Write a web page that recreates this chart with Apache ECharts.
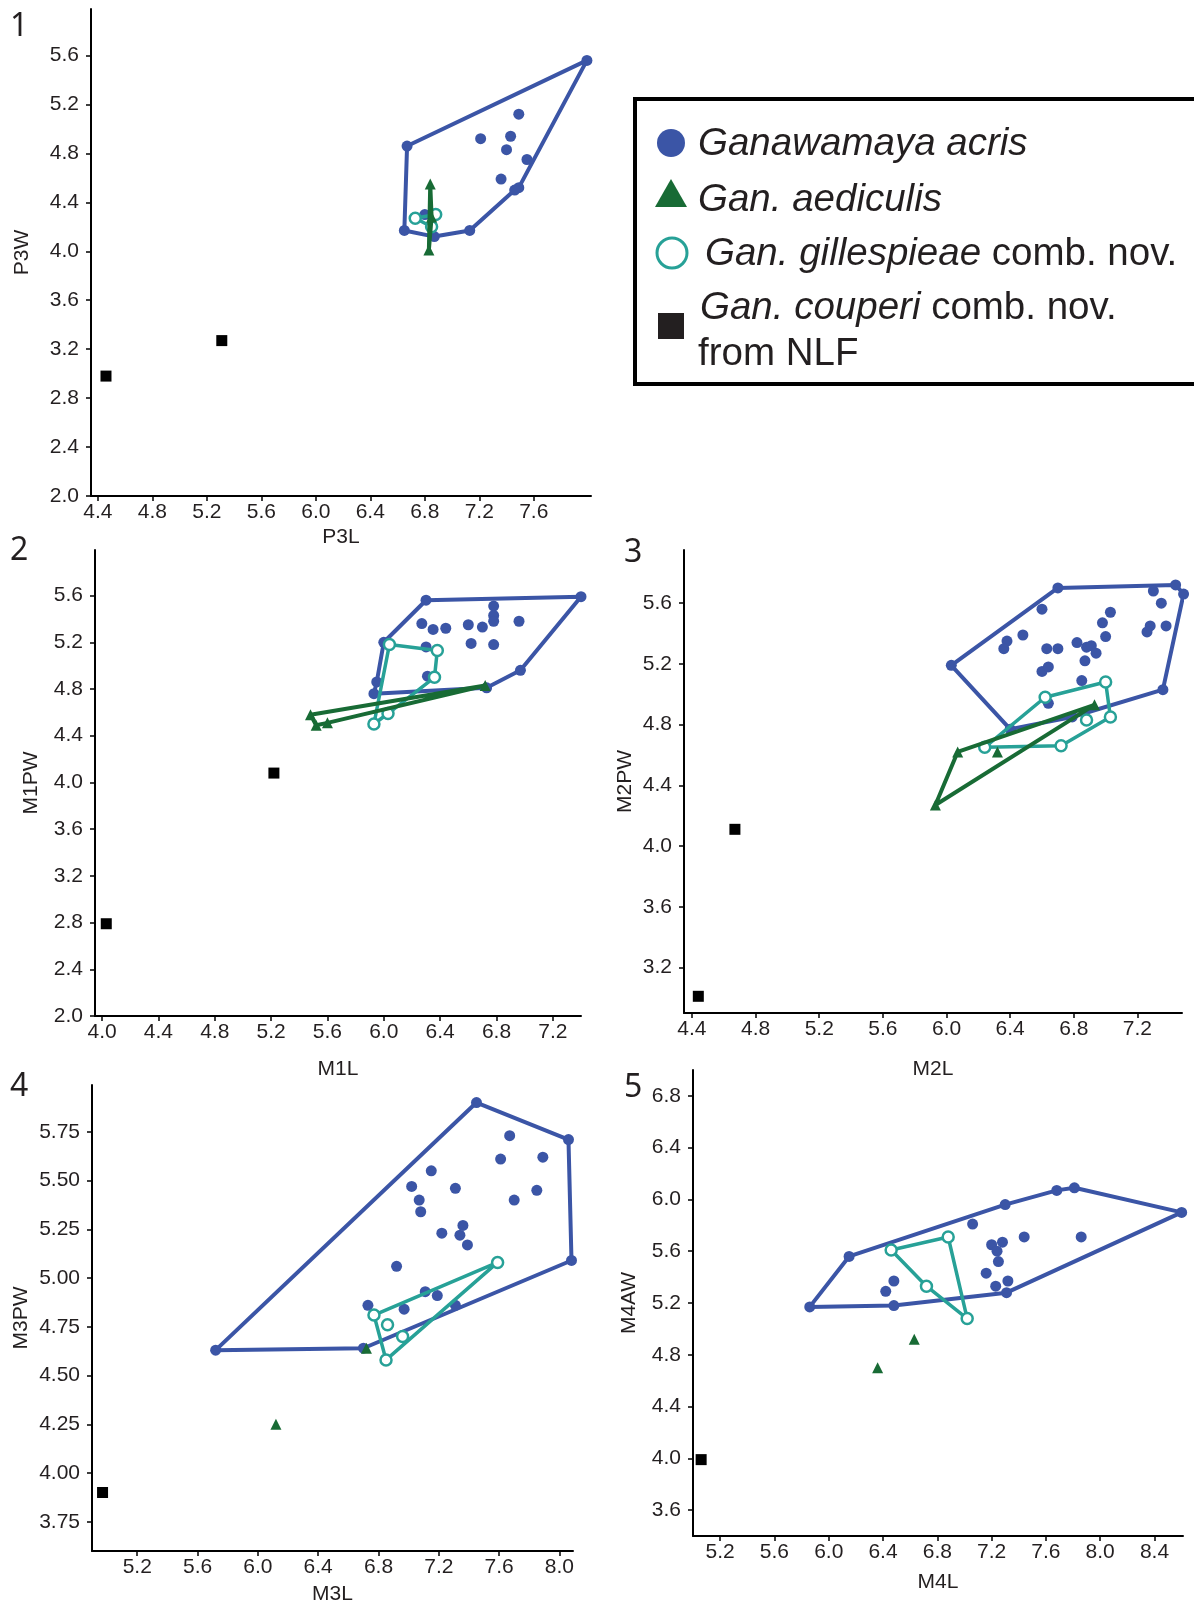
<!DOCTYPE html>
<html><head><meta charset="utf-8">
<script src="https://cdn.jsdelivr.net/npm/echarts@6/dist/echarts.min.js"></script>
<style>html,body{margin:0;padding:0;background:#fff}#c{width:1194px;height:1606px}</style>
</head><body><div id="c"></div>
<script>
// ---------- Panel 1: P3L vs P3W ----------
const acrisHull1 = [[6.67,4.86],[7.99,5.56],[7.49,4.52],[7.46,4.50],[7.13,4.17],[6.87,4.12],[6.65,4.17]];
const acrisIn1 = [[7.21,4.92],[7.49,5.12],[7.43,4.94],[7.40,4.83],[7.55,4.75],[7.36,4.59],[6.80,4.30]];
const gillHull1 = [[6.73,4.27],[6.88,4.30],[6.85,4.20]];
const gillIn1 = [];
const aedHull1 = [[6.83,4.01],[6.84,4.55],[6.85,4.28]];
const aedIn1 = [];
const coup1 = [[4.46,2.98],[5.31,3.27]];
const xTicks1 = [4.4,4.8,5.2,5.6,6.0,6.4,6.8,7.2,7.6];
const yTicks1 = [2.0,2.4,2.8,3.2,3.6,4.0,4.4,4.8,5.2,5.6];

// ---------- Panel 2: M1L vs M1PW ----------
const acrisHull2 = [[6.30,5.56],[7.40,5.59],[6.97,4.96],[6.73,4.81],[5.93,4.76],[5.95,4.86],[6.00,5.20]];
const acrisIn2 = [[6.27,5.36],[6.35,5.31],[6.44,5.32],[6.60,5.35],[6.70,5.33],[6.78,5.51],[6.78,5.43],[6.78,5.38],[6.96,5.38],[6.30,5.16],[6.62,5.19],[6.78,5.18],[6.31,4.91]];
const gillHull2 = [[6.04,5.18],[6.38,5.13],[6.36,4.90],[6.03,4.59],[5.93,4.50]];
const gillIn2 = [];
const aedHull2 = [[5.48,4.58],[6.72,4.83],[5.60,4.51],[5.52,4.49]];
const aedIn2 = [];
const coup2 = [[5.22,4.08],[4.03,2.79]];
const xTicks2 = [4.0,4.4,4.8,5.2,5.6,6.0,6.4,6.8,7.2];
const yTicks2 = [2.0,2.4,2.8,3.2,3.6,4.0,4.4,4.8,5.2,5.6];

// ---------- Panel 3: M2L vs M2PW ----------
const acrisHull3 = [[6.03,5.19],[6.70,5.70],[7.44,5.72],[7.49,5.66],[7.36,5.03],[6.79,4.85],[6.40,4.77]];
const acrisIn3 = [[6.60,5.56],[6.48,5.39],[6.38,5.35],[6.36,5.30],[6.63,5.30],[6.70,5.30],[6.82,5.34],[6.88,5.31],[6.91,5.32],[6.94,5.27],[6.87,5.22],[6.98,5.47],[7.03,5.54],[7.00,5.38],[7.30,5.68],[7.35,5.60],[7.28,5.45],[7.26,5.41],[7.38,5.45],[6.60,5.15],[6.64,5.18],[6.85,5.09],[6.64,4.94]];
const gillHull3 = [[6.62,4.98],[7.00,5.08],[7.03,4.85],[6.72,4.66],[6.24,4.65]];
const gillIn3 = [[6.88,4.83]];
const aedHull3 = [[6.07,4.62],[6.93,4.93],[5.93,4.27]];
const aedIn3 = [[6.32,4.62]];
const coup3 = [[4.67,4.11],[4.44,3.01]];
const xTicks3 = [4.4,4.8,5.2,5.6,6.0,6.4,6.8,7.2];
const yTicks3 = [3.2,3.6,4.0,4.4,4.8,5.2,5.6];

// ---------- Panel 4: M3L vs M3PW ----------
const acrisHull4 = [[5.72,4.63],[7.45,5.90],[8.06,5.71],[8.08,5.09],[6.70,4.64]];
const acrisIn4 = [[7.67,5.73],[7.61,5.61],[7.89,5.62],[7.15,5.55],[7.02,5.47],[7.31,5.46],[7.07,5.40],[7.08,5.34],[7.70,5.40],[7.85,5.45],[7.22,5.23],[7.36,5.27],[7.34,5.22],[7.39,5.17],[6.92,5.06],[7.11,4.93],[7.19,4.91],[6.73,4.86],[6.97,4.84],[7.31,4.86]];
const gillHull4 = [[6.77,4.81],[7.59,5.08],[6.85,4.58]];
const gillIn4 = [[6.86,4.76],[6.96,4.70]];
const aedHull4 = [];
const aedIn4 = [[6.72,4.64],[6.12,4.25]];
const coup4 = [[4.97,3.90]];
const xTicks4 = [5.2,5.6,6.0,6.4,6.8,7.2,7.6,8.0];
const yTicks4 = [3.75,4.00,4.25,4.50,4.75,5.00,5.25,5.50,5.75];

// ---------- Panel 5: M4L vs M4AW ----------
const acrisHull5 = [[5.86,5.17],[6.15,5.56],[7.30,5.96],[7.68,6.07],[7.81,6.09],[8.60,5.90],[7.31,5.28],[6.48,5.18]];
const acrisIn5 = [[7.06,5.81],[7.44,5.71],[7.86,5.71],[7.20,5.65],[7.28,5.67],[7.24,5.60],[7.25,5.52],[7.16,5.43],[7.23,5.33],[7.32,5.37],[6.48,5.37],[6.42,5.29]];
const gillHull5 = [[6.46,5.61],[6.88,5.71],[7.02,5.08],[6.72,5.33]];
const gillIn5 = [];
const aedHull5 = [];
const aedIn5 = [[6.63,4.92],[6.36,4.70]];
const coup5 = [[5.06,3.99]];
const xTicks5 = [5.2,5.6,6.0,6.4,6.8,7.2,7.6,8.0,8.4];
const yTicks5 = [3.6,4.0,4.4,4.8,5.2,5.6,6.0,6.4,6.8];

const BLUE = '#3b55a6', TEAL = '#27a197', GREEN = '#186b35', BLACK = '#000';
const FONT = 'Liberation Sans, Arial, sans-serif';

const panels = [
  {num:'1', xName:'P3L', yName:'P3W', grid:{left:91,top:9,width:500,height:487}, xr:[4.35,8.02], yr:[2.0,5.98], xt:xTicks1, yt:yTicks1, dec:1, xGap:31, yGap:58,
   ah:acrisHull1, ai:acrisIn1, gh:gillHull1, gi:gillIn1, eh:aedHull1, ei:aedIn1, c:coup1},
  {num:'2', xName:'M1L', yName:'M1PW', grid:{left:95,top:550,width:486,height:466}, xr:[3.95,7.40], yr:[2.0,5.99], xt:xTicks2, yt:yTicks2, dec:1, xGap:43, yGap:53,
   ah:acrisHull2, ai:acrisIn2, gh:gillHull2, gi:gillIn2, eh:aedHull2, ei:aedIn2, c:coup2},
  {num:'3', xName:'M2L', yName:'M2PW', grid:{left:684,top:550,width:498,height:463}, xr:[4.35,7.48], yr:[2.90,5.95], xt:xTicks3, yt:yTicks3, dec:1, xGap:46, yGap:48,
   ah:acrisHull3, ai:acrisIn3, gh:gillHull3, gi:gillIn3, eh:aedHull3, ei:aedIn3, c:coup3},
  {num:'4', xName:'M3L', yName:'M3PW', grid:{left:92,top:1085,width:481,height:466}, xr:[4.9,8.09], yr:[3.6,5.99], xt:xTicks4, yt:yTicks4, dec:2, xGap:33, yGap:60,
   ah:acrisHull4, ai:acrisIn4, gh:gillHull4, gi:gillIn4, eh:aedHull4, ei:aedIn4, c:coup4},
  {num:'5', xName:'M4L', yName:'M4AW', grid:{left:693,top:1070,width:490,height:466}, xr:[5.0,8.61], yr:[3.4,7.0], xt:xTicks5, yt:yTicks5, dec:1, xGap:36, yGap:53,
   ah:acrisHull5, ai:acrisIn5, gh:gillHull5, gi:gillIn5, eh:aedHull5, ei:aedIn5, c:coup5}
];

function closed(a){ return a.length ? a.concat([a[0]]) : []; }

const grids = [], xAxes = [], yAxes = [], series = [];
panels.forEach((p, i) => {
  grids.push(Object.assign({containLabel:false}, p.grid));
  const axisCommon = {
    type:'value', gridIndex:i,
    axisLine:{show:true, onZero:false, lineStyle:{color:'#000', width:2}},
    splitLine:{show:false},
    nameLocation:'middle',
    nameTextStyle:{fontFamily:FONT, fontSize:21, color:'#231f20'}
  };
  xAxes.push(Object.assign({}, axisCommon, {
    min:p.xr[0], max:p.xr[1], name:p.xName, nameGap:p.xGap,
    axisTick:{show:true, length:5, lineStyle:{color:'#000', width:1.5}, customValues:p.xt},
    axisLabel:{customValues:p.xt, formatter:v=>v.toFixed(1), fontFamily:FONT, fontSize:21, color:'#231f20', margin:6}
  }));
  yAxes.push(Object.assign({}, axisCommon, {
    min:p.yr[0], max:p.yr[1], name:p.yName, nameGap:p.yGap,
    axisTick:{show:true, length:5, lineStyle:{color:'#000', width:1.5}, customValues:p.yt},
    axisLabel:{customValues:p.yt, formatter:v=>v.toFixed(p.dec), fontFamily:FONT, fontSize:21, color:'#231f20', margin:12}
  }));
  const base = {xAxisIndex:i, yAxisIndex:i, clip:false, silent:true};
  if (p.ah.length) series.push(Object.assign({}, base, {type:'line', data:closed(p.ah), showSymbol:false, lineStyle:{color:BLUE, width:4}, z:2}));
  series.push(Object.assign({}, base, {type:'scatter', data:p.ah.concat(p.ai), symbol:'circle', symbolSize:11, itemStyle:{color:BLUE, opacity:1}, z:3}));
  if (p.gh.length) series.push(Object.assign({}, base, {type:'line', data:closed(p.gh), showSymbol:false, lineStyle:{color:TEAL, width:3.5}, z:4}));
  series.push(Object.assign({}, base, {type:'scatter', data:p.gh.concat(p.gi), symbol:'circle', symbolSize:11, itemStyle:{color:'#fff', borderColor:TEAL, borderWidth:2.5, opacity:1}, z:5}));
  if (p.eh.length) series.push(Object.assign({}, base, {type:'line', data:closed(p.eh), showSymbol:false, lineStyle:{color:GREEN, width:4}, z:6}));
  series.push(Object.assign({}, base, {type:'scatter', data:p.eh.concat(p.ei), symbol:'triangle', symbolSize:11, itemStyle:{color:GREEN, opacity:1}, z:7}));
  series.push(Object.assign({}, base, {type:'scatter', data:p.c, symbol:'rect', symbolSize:11, itemStyle:{color:BLACK, opacity:1}, z:8}));
});

const numPos = [[10,11],[10,535],[624,537],[10,1071],[624,1072]];
const graphic = panels.map((p,i)=>({type:'text', left:numPos[i][0], top:numPos[i][1], style:{text:p.num, fontFamily:'Noto Sans, sans-serif', fontSize:32, fill:'#231f20'}}));

// legend box
const LX = 635, LY = 99;
graphic.push({type:'rect', shape:{x:LX, y:LY, width:600, height:285}, style:{fill:'#fff', stroke:'#000', lineWidth:4}, z:10});
const LF = 38.5;
const rich = {i:{fontStyle:'italic', fontFamily:FONT, fontSize:LF, fill:'#231f20'}, n:{fontFamily:FONT, fontSize:LF, fill:'#231f20'}};
graphic.push({type:'circle', shape:{cx:671, cy:143, r:14}, style:{fill:BLUE}, z:11});
graphic.push({type:'polygon', shape:{points:[[671,179],[655,207],[687,207]]}, style:{fill:GREEN}, z:11});
graphic.push({type:'circle', shape:{cx:672, cy:253, r:15}, style:{fill:'#fff', stroke:TEAL, lineWidth:3}, z:11});
graphic.push({type:'rect', shape:{x:658, y:313, width:26, height:26}, style:{fill:'#231f20'}, z:11});
const legTexts = [
  [698,144,'{i|Ganawamaya acris}'],
  [698,200,'{i|Gan. aediculis}'],
  [705,254,'{i|Gan. gillespieae} {n|comb. nov.}'],
  [700,308,'{i|Gan. couperi} {n|comb. nov.}'],
  [698,354,'{n|from NLF}']
];
legTexts.forEach(t=>graphic.push({type:'text', x:t[0], y:t[1], style:{text:t[2], rich:rich, verticalAlign:'middle', align:'left', fontSize:LF}, z:11}));

const chart = echarts.init(document.getElementById('c'));
chart.setOption({animation:false, backgroundColor:'#fff', grid:grids, xAxis:xAxes, yAxis:yAxes, series:series, graphic:graphic});
</script></body></html>
